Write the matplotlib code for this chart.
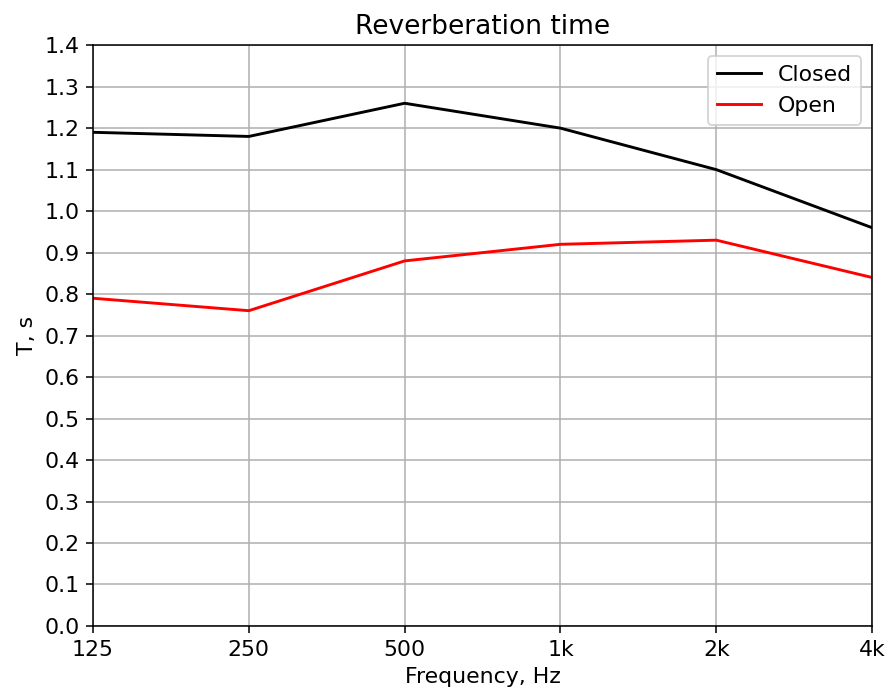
import numpy as np
import matplotlib
matplotlib.use('Agg')
import matplotlib.pyplot as plt

freqs = ['125', '250', '500', '1k', '2k', '4k']
closed = [1.19, 1.18, 1.26, 1.20, 1.10, 0.96]
opened = [0.79, 0.76, 0.88, 0.92, 0.93, 0.84]

x = np.arange(len(freqs))

plt.rcParams['font.size'] = 11.4

DPI = 139
fig = plt.figure(figsize=(889 / DPI, 695 / DPI), dpi=DPI)
ax = fig.add_axes([0.1046, 0.0993, 0.8764, 0.8357])
ax.plot(x, closed, color='black', label='Closed')
ax.plot(x, opened, color='red', label='Open')
ax.set_xticks(x)
ax.set_xticklabels(freqs)
ax.set_xlim(0, len(freqs) - 1)
ax.set_ylim(0, 1.4)
ax.set_yticks(np.arange(0, 1.41, 0.1))
ax.set_xlabel('Frequency, Hz')
ax.set_ylabel('T, s')
ax.set_title('Reverberation time')
ax.grid()
ax.legend(loc='upper right')

fig.savefig('out.png', dpi=DPI)
